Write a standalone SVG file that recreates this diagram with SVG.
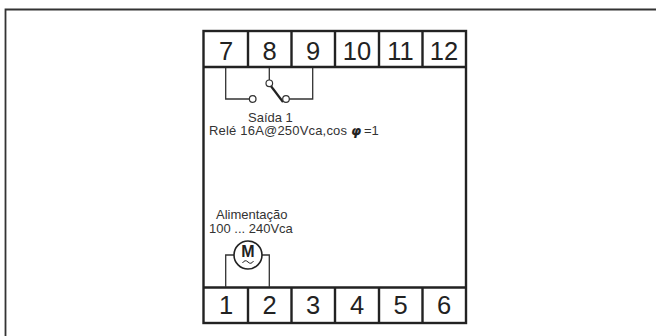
<svg xmlns="http://www.w3.org/2000/svg" width="656" height="336" viewBox="0 0 656 336">
<style>
.b{fill:none;stroke:#222;stroke-width:2.400}
.w{fill:none;stroke:#333;stroke-width:1.300}
.c{fill:#fff;stroke:#333;stroke-width:1.200}
.n{font-family:"Liberation Sans",Arial,sans-serif;font-size:25.500px;fill:#222;text-anchor:middle}
.t{font-family:"Liberation Sans",Arial,sans-serif;font-size:13px;fill:#333}
</style>
<rect width="656" height="336" fill="#fff"/>
<path d="M5.500 336V9.500H656" fill="none" stroke="#333" stroke-width="1.800"/>
<g id="housing">
<rect class="b" x="203.500" y="31" width="262.500" height="292"/>
<path class="b" d="M204 67H466M204 287.500H466M248 31V67M291.500 31V67M335 31V67M379 31V67M422.500 31V67M248 288V323M291.500 288V323M335 288V323M379 288V323M422.500 288V323"/>
</g>
<g id="terminals-top">
<text class="n" x="226" y="60">7</text><text class="n" x="269.500" y="60">8</text><text class="n" x="313" y="60">9</text><text class="n" x="357" y="60">10</text><text class="n" x="400.500" y="60">11</text><text class="n" x="444" y="60">12</text>
</g>
<g id="terminals-bottom">
<text class="n" x="226" y="314">1</text><text class="n" x="269.500" y="314">2</text><text class="n" x="313" y="314">3</text><text class="n" x="357" y="314">4</text><text class="n" x="400.500" y="314">5</text><text class="n" x="444" y="314">6</text>
</g>
<g id="connectors">
<path class="w" d="M225.700 68V99H250M269.300 68V81M312.700 68V99H289"/>
<path d="M270.500 85.500L283 102" fill="none" stroke="#222" stroke-width="2.200"/>
<path class="w" d="M225.700 287V255H234M269.300 287V255H262"/>
</g>
<g id="relay">
<circle class="c" cx="252.700" cy="99" r="3.300"/><circle class="c" cx="269.300" cy="83.300" r="3.300"/><circle class="c" cx="286" cy="99" r="3.300"/>
<text class="t" x="248" y="121.500">Saída 1</text>
<text class="t" x="209" y="135" textLength="138" lengthAdjust="spacing">Relé 16A@250Vca,cos</text>
<text x="351" y="135" font-size="13" font-style="italic" font-weight="bold" font-family="'DejaVu Sans',sans-serif" fill="#222">φ</text>
<text class="t" x="364" y="135">=1</text>
</g>
<g id="power">
<text class="t" x="216" y="219">Alimentação</text>
<text class="t" x="209" y="233">100 ... 240Vca</text>
<circle cx="248" cy="255" r="14" fill="#fff" stroke="#222" stroke-width="1.600"/>
<text x="248" y="256.500" font-family="'Liberation Sans',Arial,sans-serif" font-size="16" font-weight="bold" fill="#222" text-anchor="middle">M</text>
<path d="M242.500 263Q245 259 248 262T253.500 261" fill="none" stroke="#222" stroke-width="1"/>
</g>
</svg>
